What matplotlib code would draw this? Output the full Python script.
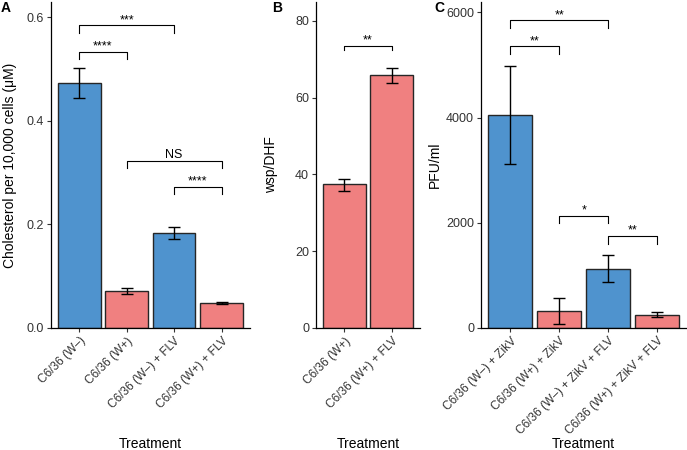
import matplotlib
matplotlib.use("Agg")
import matplotlib.pyplot as plt

plt.rcParams['font.family'] = ['Liberation Sans', 'DejaVu Sans']

BLUE = "#4F93CE"
RED = "#F08080"

# Panel A
a_labels = ["C6/36 (W\u2013)", "C6/36 (W+)", "C6/36 (W\u2013) + FLV", "C6/36 (W+) + FLV"]
a_vals = [0.472, 0.0714, 0.183, 0.0477]
a_lo = [0.443, 0.0656, 0.171, 0.0457]
a_hi = [0.501, 0.0766, 0.194, 0.0497]
a_colors = [BLUE, RED, BLUE, RED]
a_brackets = [(0, 2, 0.584, "***"), (0, 1, 0.533, "****"), (1, 3, 0.322, "NS"), (2, 3, 0.272, "****")]

# Panel B
b_labels = ["C6/36 (W+)", "C6/36 (W+) + FLV"]
b_vals = [37.4, 65.8]
b_lo = [35.7, 63.9]
b_hi = [38.9, 67.8]
b_colors = [RED, RED]
b_brackets = [(0, 1, 73.5, "**")]

# Panel C
c_labels = ["C6/36 (W\u2013) + ZikV", "C6/36 (W+) + ZikV", "C6/36 (W\u2013) + ZikV + FLV", "C6/36 (W+) + ZikV + FLV"]
c_vals = [4056, 329, 1126, 253]
c_lo = [3126, 82, 866, 201]
c_hi = [4980, 562, 1379, 296]
c_colors = [BLUE, RED, BLUE, RED]
c_brackets = [(0, 2, 5848, "**"), (0, 1, 5354, "**"), (1, 2, 2138, "*"), (2, 3, 1747, "**")]

W, H = 687, 450
fig = plt.figure(figsize=(W/100, H/100), dpi=100)

def make_ax(left_px, right_px, top_px=2, bottom_px=328):
    return fig.add_axes([left_px/W, 1-bottom_px/H, (right_px-left_px)/W, (bottom_px-top_px)/H])

def panel(ax, labels, vals, lo, hi, colors, brackets, ylim, yticks, yticklabels, ylabel, tick_h, letter, letter_x, ylabel_x):
    n = len(vals)
    x = list(range(n))
    ax.bar(x, vals, width=0.9, color=colors, edgecolor="#262626", linewidth=1.0, zorder=2)
    err = [[v - l for v, l in zip(vals, lo)], [h - v for v, h in zip(vals, hi)]]
    ax.errorbar(x, vals, yerr=err, fmt="none", ecolor="black", elinewidth=1.0, capsize=4, capthick=1.0, zorder=3)
    for i, j, y, txt in brackets:
        ax.plot([i, i, j, j], [y - tick_h, y, y, y - tick_h], color="black", lw=0.8, zorder=4)
        if txt == "NS":
            ax.annotate(txt, xy=((i + j)/2, y), xytext=(0, 2.5), textcoords="offset points",
                        ha="center", va="baseline", fontsize=9)
        else:
            ax.annotate(txt, xy=((i + j)/2, y), xytext=(0, 1.7), textcoords="offset points",
                        ha="center", va="baseline", fontsize=9)
    ax.set_xlim(-0.6, n - 0.4)
    ax.set_ylim(*ylim)
    ax.set_yticks(yticks)
    ax.set_yticklabels(yticklabels, fontsize=9, color="#333333")
    ax.set_xticks(x)
    ax.set_xticklabels(labels, rotation=45, ha="right", va="top", rotation_mode="anchor", fontsize=8.6, color="#333333")
    for s in ["top", "right"]:
        ax.spines[s].set_visible(False)
    for s in ["left", "bottom"]:
        ax.spines[s].set_linewidth(0.9)
    ax.tick_params(axis="both", direction="out", length=3, width=0.8, color="#333333", pad=2)
    ax.set_ylabel(ylabel, fontsize=10)
    ax.yaxis.set_label_coords(ylabel_x, 0.5)
    ax.text(0.5, (328-444)/326, "Treatment", transform=ax.transAxes, ha="center", va="center", fontsize=10)
    fig.text(letter_x/W, 1-8/H, letter, fontsize=10, fontweight="bold", ha="left", va="center")

axA = make_ax(50.7, 250)
panel(axA, a_labels, a_vals, a_lo, a_hi, a_colors, a_brackets, (0, 0.629),
      [0, 0.2, 0.4, 0.6], ["0.0", "0.2", "0.4", "0.6"], "Cholesterol per 10,000 cells (\u03bcM)", 0.014, "A", 1, -0.17)

axB = make_ax(316, 420)
panel(axB, b_labels, b_vals, b_lo, b_hi, b_colors, b_brackets, (0, 84.9),
      [0, 20, 40, 60, 80], ["0", "20", "40", "60", "80"], "wsp/DHF", 1.0, "B", 272, -0.37)

axC = make_ax(481, 686.5)
panel(axC, c_labels, c_vals, c_lo, c_hi, c_colors, c_brackets, (0, 6196),
      [0, 2000, 4000, 6000], ["0", "2000", "4000", "6000"], "PFU/ml", 150, "C", 434, -0.19)

fig.savefig("out.png", dpi=100)
